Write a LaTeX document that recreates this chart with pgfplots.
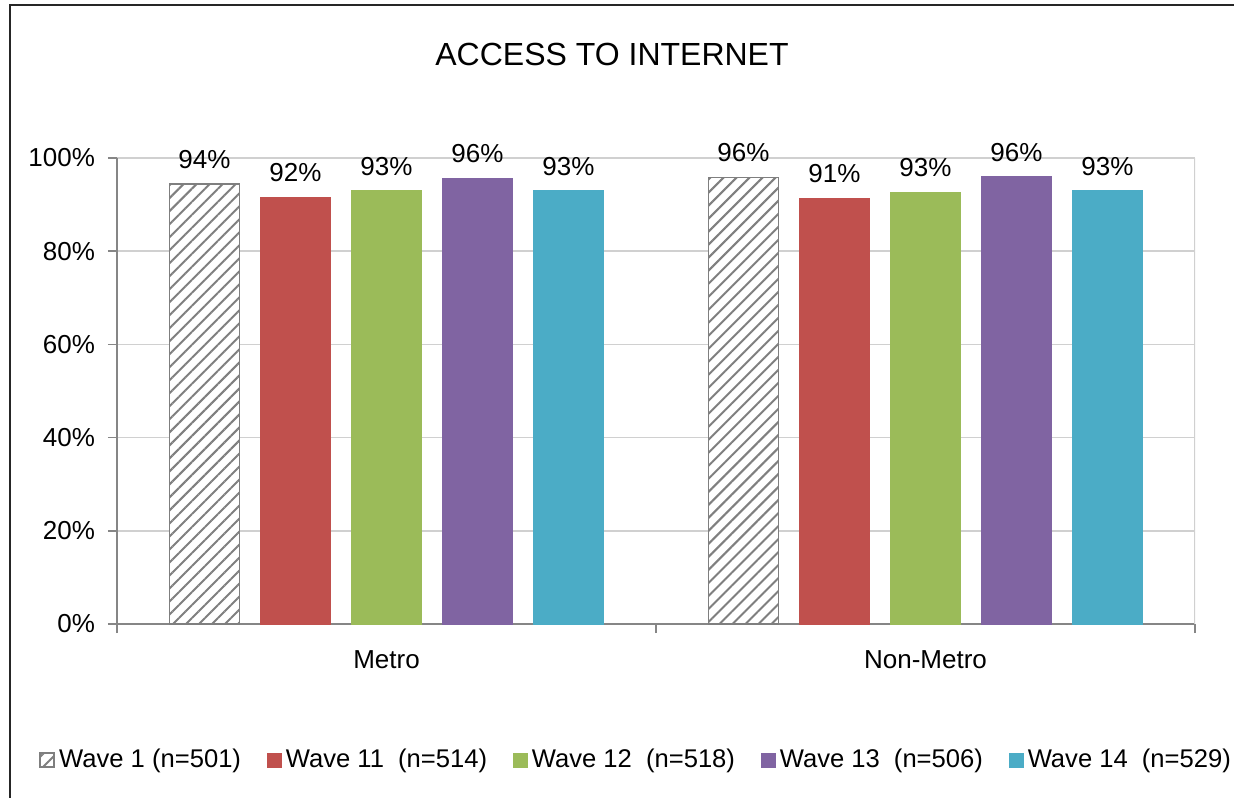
\documentclass[border=0pt]{standalone}
\usepackage{fontspec}
\setmainfont{Liberation Sans}
\usepackage{pgfplots}
\pgfplotsset{compat=1.18}
\usetikzlibrary{patterns.meta}

\definecolor{wred}{HTML}{C0504D}
\definecolor{wgreen}{HTML}{9BBB59}
\definecolor{wpurple}{HTML}{8064A2}
\definecolor{wcyan}{HTML}{4BACC6}
\definecolor{axisgray}{HTML}{868686}
\definecolor{gridgray}{HTML}{D0D0D0}
\definecolor{hatchgray}{HTML}{7F7F7F}

\begin{document}
\begin{tikzpicture}
\path[use as bounding box] (0,0) rectangle (617pt,-398.5pt);
\draw[black!85, line width=0.9pt] (5pt,-410pt) -- (5pt,-2.5pt) -- (630pt,-2.5pt);
\node[font=\fontsize{16}{19}\selectfont] at (306pt,-27pt) {ACCESS TO INTERNET};

\begin{axis}[
    at={(58.5pt,-312pt)}, anchor=south west,
    scale only axis,
    width=539pt, height=233pt,
    ybar=10.5pt, bar width=35pt,
    xmin=-0.5, xmax=1.5,
    ymin=0, ymax=100,
    axis x line*=bottom, axis y line*=left,
    axis line style={draw=axisgray, line width=0.8pt, -},
    ytick={0,20,...,100},
    yticklabel={\pgfmathprintnumber{\tick}\%},
    yticklabel style={xshift=-3pt},
    ymajorgrids, grid style={gridgray, line width=0.8pt},
    tick align=outside, major tick length=4.5pt,
    tick style={axisgray, line width=0.8pt},
    xtick={-0.5,0.5,1.5}, xticklabels={},
    extra x ticks={0,1},
    extra x tick labels={Metro,Non-Metro},
    extra x tick style={major tick length=0pt, tick label style={yshift=-10pt}},
    tick label style={font=\fontsize{13}{15}\selectfont},
    /pgf/number format/assume math mode=true,
    nodes near coords={\pgfmathprintnumber[fixed,precision=0]{\pgfplotspointmeta}\%},
    every node near coord/.append style={font=\fontsize{13}{15}\selectfont, black, yshift=4pt},
    legend columns=5,
    legend style={at={(-0.0724,-0.292)}, anchor=west, draw=none, fill=none,
        inner sep=0pt, font=\fontsize{12.8}{15}\selectfont,
        /tikz/every even column/.append style={column sep=11pt},
        cells={anchor=west, inner xsep=1.5pt}},
    legend image code/.code={\draw[#1] (0pt,-3.5pt) rectangle (7pt,3.5pt);},
]
\addplot[draw=hatchgray, line width=0.9pt, fill=white,
    postaction={pattern={Lines[angle=45,distance=4.6pt,line width=1pt]}, pattern color=hatchgray}]
    coordinates {(0,94.4) (1,95.8)};
\addplot[draw=wred, fill=wred] coordinates {(0,91.6) (1,91.4)};
\addplot[draw=wgreen, fill=wgreen] coordinates {(0,93.0) (1,92.7)};
\addplot[draw=wpurple, fill=wpurple] coordinates {(0,95.7) (1,96.0)};
\addplot[draw=wcyan, fill=wcyan] coordinates {(0,93.0) (1,93.0)};
\legend{Wave 1 (n=501),Wave 11\hspace{3.5pt} (n=514),Wave 12\hspace{3.5pt} (n=518),Wave 13\hspace{3.5pt} (n=506),Wave 14\hspace{3.5pt} (n=529)}
\draw[gridgray, line width=0.8pt] (rel axis cs:1,0) -- (rel axis cs:1,1);
\end{axis}
\end{tikzpicture}
\end{document}
